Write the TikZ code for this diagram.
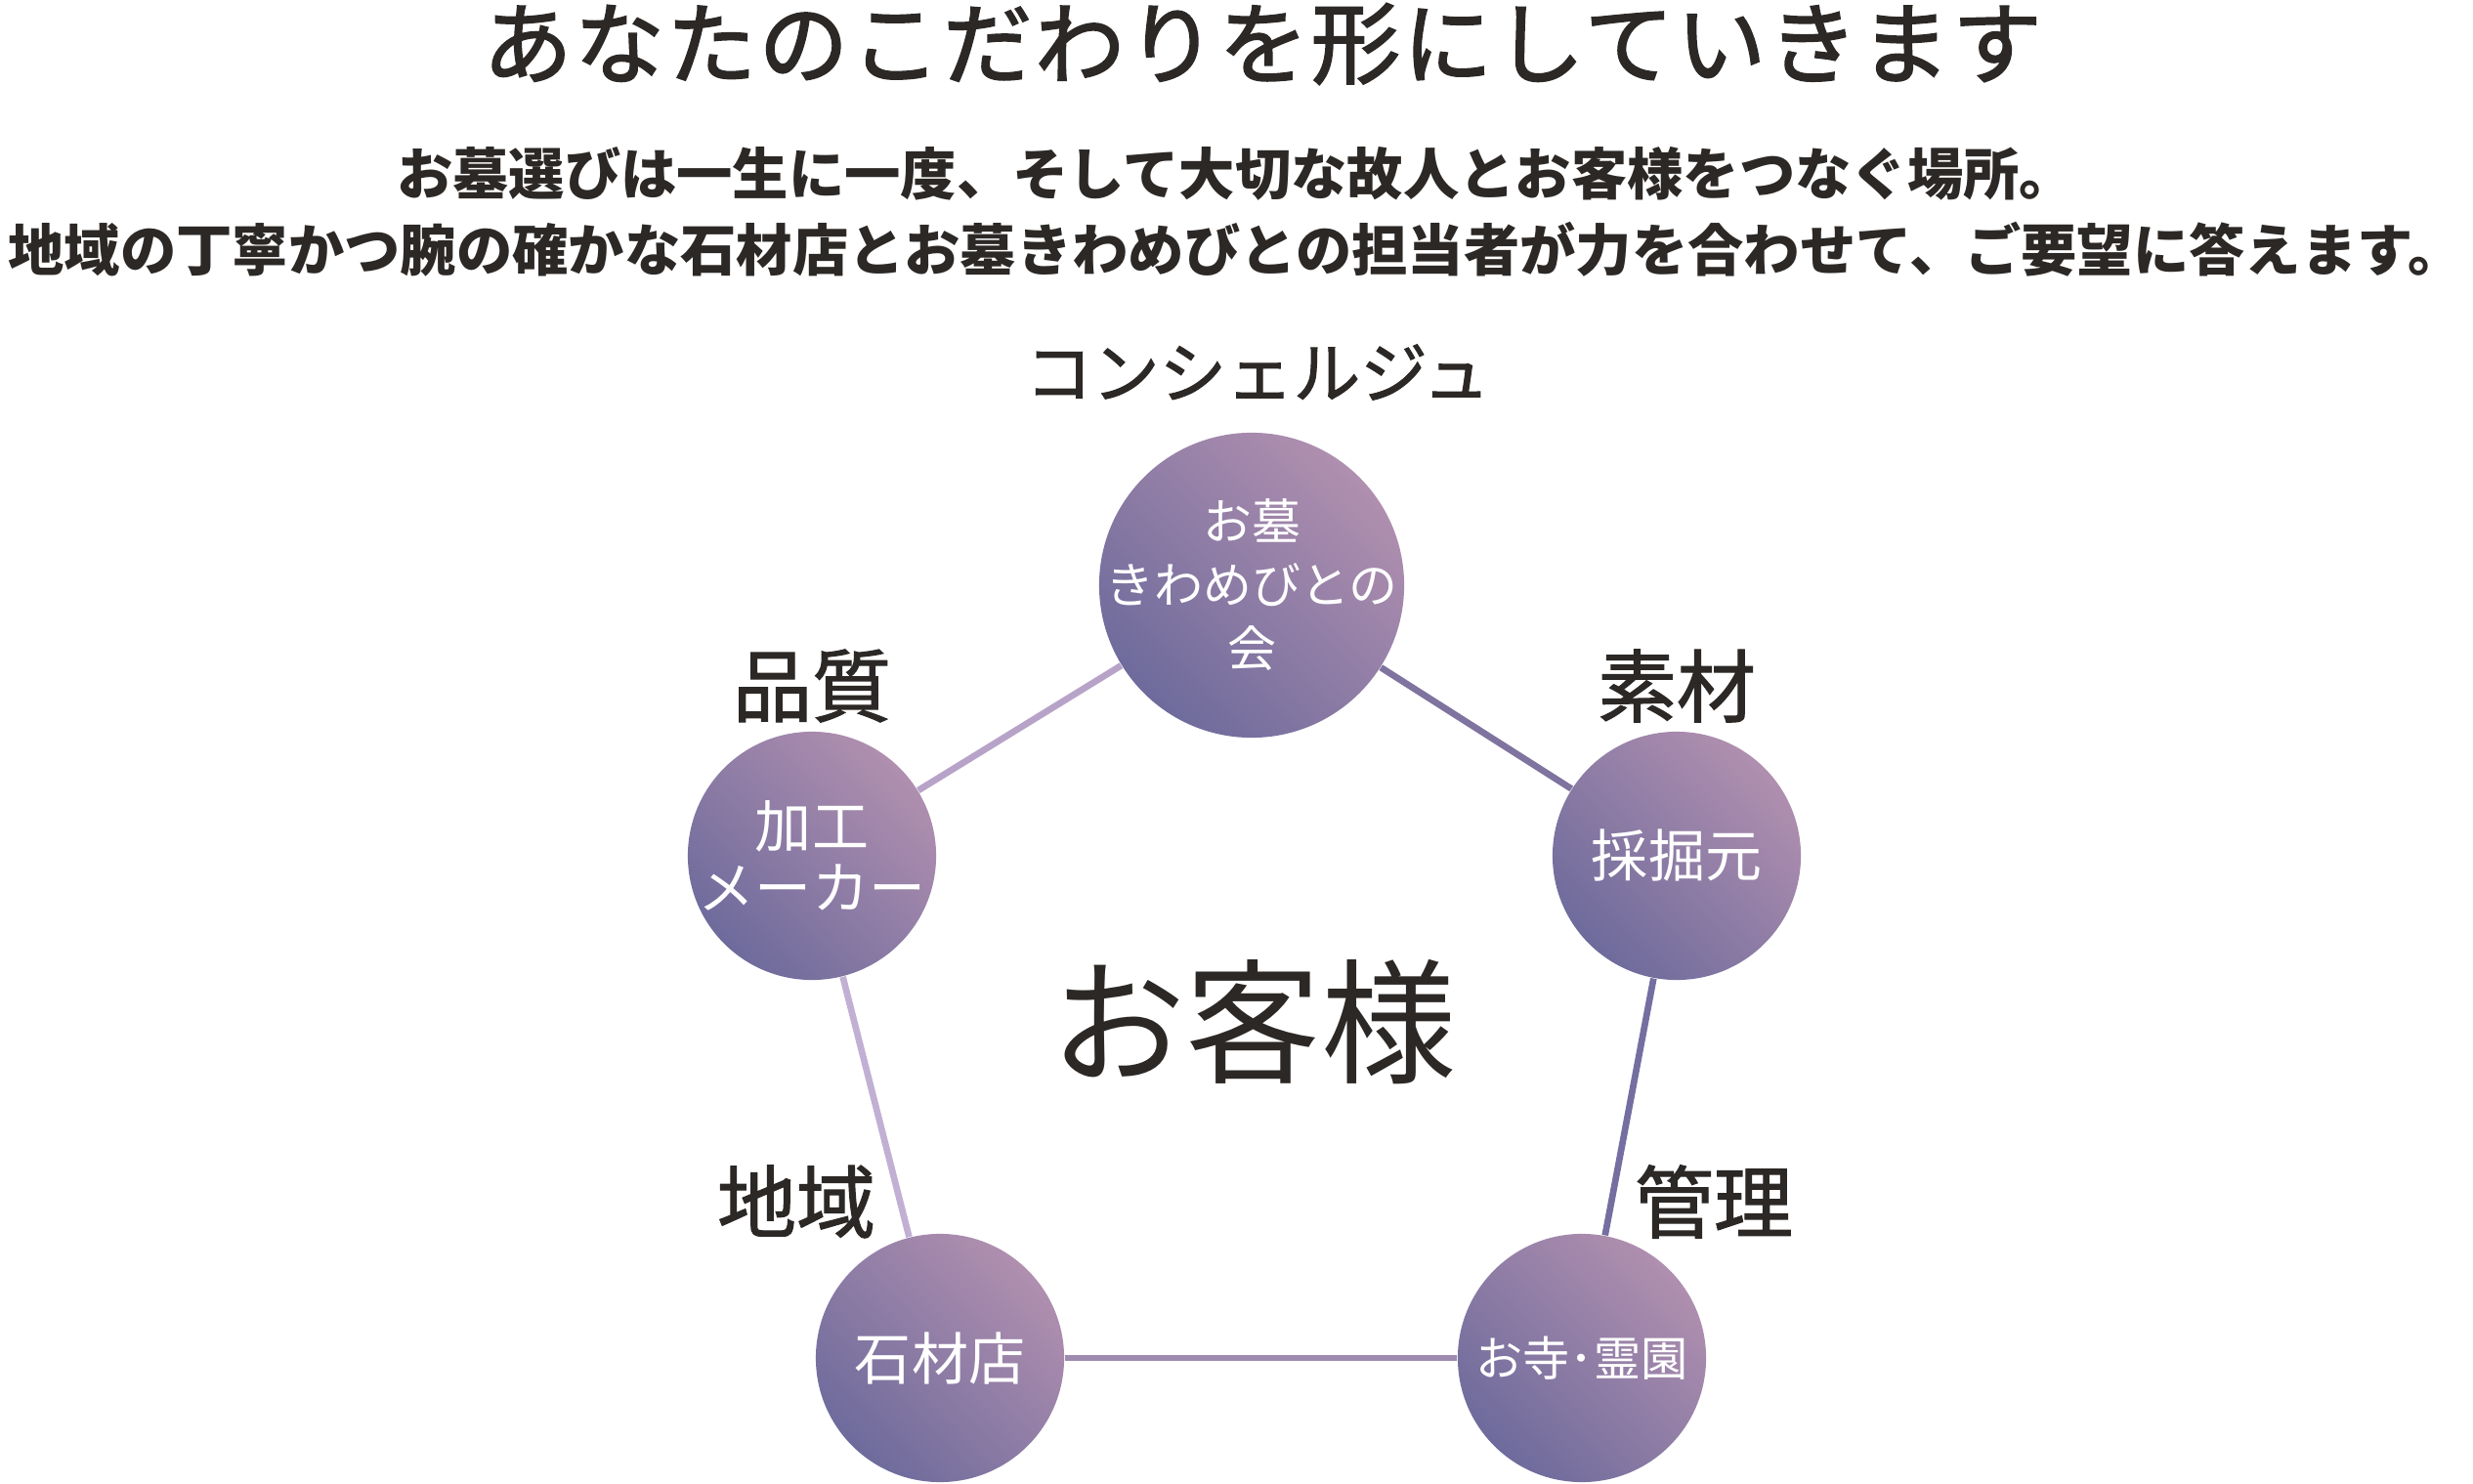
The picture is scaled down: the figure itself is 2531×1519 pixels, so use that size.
\documentclass[tikz,border=0pt]{standalone}
\usepackage{fontspec}
\setmainfont{Noto Sans CJK JP}
\newfontfamily\wide[LetterSpace=3, FakeBold=2]{Noto Sans CJK JP}
\newfontfamily\semi[FakeBold=1.5]{Noto Sans CJK JP}
\usetikzlibrary{positioning}

\definecolor{ink}{HTML}{2B2826}
\definecolor{plumA}{HTML}{6E6B9C}
\definecolor{plumB}{HTML}{B08FAF}

\begin{document}
\begin{tikzpicture}[x=0.01cm, y=-0.01cm, inner sep=0pt,
    ball/.style={circle, minimum size=2.54cm, bottom color=plumA, top color=plumB, shading angle=-45},
    word/.style={text=white, align=center, font=\fontsize{16.5}{18}\selectfont},
    tag/.style={text=ink, font=\semi\fontsize{23}{26}\selectfont},
    link/.style={line width=1.9pt}]
    \useasboundingbox (0,0) rectangle (2531,1519);

    % heading
    \node[text=ink, font=\wide\fontsize{26}{30}\selectfont] (t0) at (1292,45) {あなたのこだわりを形にしていきます};
    \node[text=ink, font=\bfseries\fontsize{16.3}{20}\selectfont] (t1) at (1265,178) {お墓選びは一生に一度、そして大切な故人とお客様をつなぐ場所。};
    \node[text=ink, font=\bfseries\fontsize{16.3}{20}\selectfont] (t2) at (1265,255) {地域の丁寧かつ腕の確かな石材店とお墓きわめびとの担当者が力を合わせて、ご要望に答えます。};

    % circles
    \node[ball, minimum size=3.12cm,
        label={[word, font=\fontsize{14.2}{18.5}\selectfont]center:{お墓\\きわめびとの\\会}}] (c0) at (1281,599) {};
    \node[ball, label={[word]center:{加工\\メーカー}}] (c1) at (831,876) {};
    \node[ball, label={[word]center:採掘元}] (c2) at (1716,876) {};
    \node[ball, label={[word]center:石材店}] (c3) at (962,1390) {};
    \node[ball, label={[word, font=\fontsize{13.7}{18}\selectfont]center:お寺･霊園}] (c4) at (1619,1390) {};

    % labels
    \node[tag, font=\semi\fontsize{19.5}{24}\selectfont] (l0) at (1287,381) {コンシェルジュ};
    \node[tag] (l1) at (831,702) {品質};
    \node[tag] (l2) at (1716,702) {素材};
    \node[tag] (l3) at (815,1230) {地域};
    \node[tag] (l4) at (1754,1230) {管理};
    \node[text=ink, font=\fontsize{39.3}{44}\selectfont] (me) at (1283,1046) {お客様};

    \draw[link, color={rgb,255:red,184;green,163;blue,200}] (c0) -- (c1);
    \draw[link, color={rgb,255:red,127;green,115;blue,159}] (c0) -- (c2);
    \draw[link, color={rgb,255:red,193;green,176;blue,212}] (c1) -- (c3);
    \draw[link, color={rgb,255:red,116;green,111;blue,160}] (c2) -- (c4);
    \draw[link, color={rgb,255:red,158;green,139;blue,176}] (c3) -- (c4);
\end{tikzpicture}
\end{document}
